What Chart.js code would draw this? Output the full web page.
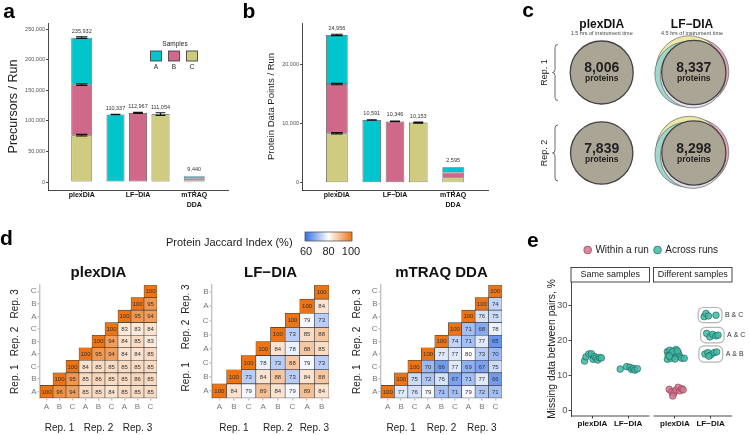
<!DOCTYPE html>
<html>
<head>
<meta charset="utf-8">
<script src="https://cdn.jsdelivr.net/npm/chart.js@4.4.1/dist/chart.umd.min.js"></script>
<style>
  body { margin: 0; background: #fff; }
  #fig { position: relative; width: 750px; height: 435px; overflow: hidden; }
  #fig canvas { position: absolute; }
</style>
</head>
<body>
<div id="fig">
  <canvas id="chartA" width="245" height="215" style="left:0;top:0"></canvas>
  <canvas id="chartB" width="250" height="215" style="left:240px;top:0"></canvas>
  <canvas id="chartC" width="235" height="200" style="left:515px;top:0"></canvas>
  <canvas id="chartD1" width="165" height="210" style="left:0;top:225px"></canvas>
  <canvas id="chartD2" width="200" height="210" style="left:160px;top:225px"></canvas>
  <canvas id="chartD3" width="170" height="210" style="left:340px;top:225px"></canvas>
  <canvas id="chartE" width="250" height="210" style="left:500px;top:225px"></canvas>
</div>
<script>
// ---- a / b : ids per run, stacked by sample for the multiplexed runs
const barGroups = ['plexDIA', 'LF\u2212DIA', 'mTRAQ DDA'];
const samples = ['A', 'B', 'C'];
const precPlex = [76932, 82500, 76500];
const precPlexErr = [1300, 1300, 1300];
const precLF = [110337, 112967, 111054];
const precLFErr = [400, 900, 2200];
const precMtraq = [3140, 3300, 3000];
const precMtraqErr = [0, 0, 0];
const precTicks = [0, 50000, 100000, 150000, 200000, 250000];

const protPlex = [8290, 8330, 8336];
const protPlexErr = [120, 120, 120];
const protLF = [10591, 10346, 10153];
const protLFErr = [40, 60, 90];
const protMtraq = [880, 870, 845];
const protMtraqErr = [0, 0, 0];
const protTicks = [0, 10000, 20000];

// ---- c : proteins per replicate
const vennCols = ['plexDIA', 'LF\u2212DIA'];
const vennSub = ['1.5 hrs of instrument time', '4.5 hrs of instrument time'];
const vennRows = ['Rep. 1', 'Rep. 2'];
const proteinsPlex = [8006, 7839];
const proteinsLF = [8337, 8298];

// ---- d : protein Jaccard index (%), rows bottom->top, cols left->right
const n = null;
const jaccPlex = [
  [100, 96, 94, 85, 85, 84, 85, 85, 85],
  [n, 100, 95, 85, 86, 85, 85, 86, 85],
  [n, n, 100, 84, 85, 85, 85, 85, 85],
  [n, n, n, 100, 95, 94, 84, 84, 85],
  [n, n, n, n, 100, 94, 84, 85, 83],
  [n, n, n, n, n, 100, 83, 83, 84],
  [n, n, n, n, n, n, 100, 95, 94],
  [n, n, n, n, n, n, n, 100, 95],
  [n, n, n, n, n, n, n, n, 100]
];
const jaccLF = [
  [100, 84, 79, 89, 84, 79, 89, 84],
  [n, 100, 73, 84, 88, 73, 84, 88],
  [n, n, 100, 78, 73, 88, 79, 73],
  [n, n, n, 100, 84, 78, 88, 85],
  [n, n, n, n, 100, 73, 85, 88],
  [n, n, n, n, n, 100, 79, 73],
  [n, n, n, n, n, n, 100, 84],
  [n, n, n, n, n, n, n, 100]
];
const jaccMtraq = [
  [100, 77, 76, 79, 71, 71, 79, 72, 71],
  [n, 100, 75, 72, 76, 67, 71, 77, 66],
  [n, n, 100, 70, 66, 77, 69, 67, 75],
  [n, n, n, 100, 77, 77, 80, 73, 70],
  [n, n, n, n, 100, 74, 71, 77, 65],
  [n, n, n, n, n, 100, 71, 68, 78],
  [n, n, n, n, n, n, 100, 76, 75],
  [n, n, n, n, n, n, n, 100, 74],
  [n, n, n, n, n, n, n, n, 100]
];
const runLabels9 = ['A', 'B', 'C', 'A', 'B', 'C', 'A', 'B', 'C'];
const runReps9 = [0, 0, 0, 1, 1, 1, 2, 2, 2];
const runLabels8 = ['A', 'B', 'C', 'A', 'B', 'C', 'A', 'B'];
const runReps8 = [0, 0, 0, 1, 1, 1, 2, 2];
const repNames = ['Rep. 1', 'Rep. 2', 'Rep. 3'];
const jaccTicks = [60, 80, 100];

// ---- e : missing data between pairs (%), [jitter, value]
const eGroups = ['plexDIA', 'LF\u2212DIA'];
const eFacets = ['Same samples', 'Different samples'];
const sameAcrossPlex = [[-0.22, 14.0], [-0.18, 15.2], [-0.1, 16.0], [-0.03, 16.1], [0.02, 14.5], [0.06, 15.3], [0.1, 14.8], [0.15, 14.3], [0.2, 15.0], [0.25, 14.9]];
const sameAcrossLF = [[-0.22, 11.7], [-0.04, 12.4], [0.05, 12.2], [0.1, 11.6], [0.15, 11.9], [0.19, 11.4], [0.26, 11.8]];
const diffAcrossPlex = [[-0.21, 16.7], [-0.19, 15.7], [-0.14, 17.1], [-0.09, 16.2], [-0.04, 15.2], [-0.02, 16.7], [0.03, 17.3], [0.05, 15.7], [0.1, 16.2], [0.14, 15.2], [-0.21, 14.5], [-0.12, 14.8], [0.0, 14.6], [0.19, 14.8], [0.26, 14.8], [-0.06, 16.7], [0.07, 16.9], [-0.16, 15.4]];
const diffWithinPlex = [[-0.16, 5.9], [-0.09, 5.2], [-0.03, 4.8], [0.03, 5.7], [0.09, 6.5], [0.14, 5.5], [0.19, 6.1], [0.23, 5.8], [-0.06, 4.0]];
const diffAcrossLF = [
  [[-0.18, 26.7], [-0.13, 27.6], [-0.06, 26.9], [0.15, 27.1]],
  [[-0.11, 21.9], [-0.02, 20.9], [0.06, 21.6], [0.15, 21.2], [0.21, 21.4]],
  [[-0.16, 16.0], [-0.08, 16.4], [0.0, 15.7], [0.1, 16.4], [0.17, 16.6], [-0.05, 15.4]]
];
const diffLFPairs = ['B & C', 'A & C', 'A & B'];
const eTicks = [0, 10, 20, 30];

// ---------------------------------------------------------------
const FONT = '"Liberation Sans", Arial, Helvetica, sans-serif';
Chart.defaults.font.family = FONT;
Chart.defaults.color = '#333';
Chart.defaults.animation = false;
Chart.defaults.events = [];
Chart.defaults.plugins.legend.display = false;
Chart.defaults.plugins.tooltip.enabled = false;

const sampleColors = ['#00c5cd', '#cf6889', '#cfcc7f'];
const DODGE = [-0.4, 0, 0.4];
const fmt = v => v.toLocaleString('en-US');

function txt(ctx, s, x, y, size, o = {}) {
  ctx.save();
  ctx.font = (o.bold ? 'bold ' : '') + size + 'px ' + FONT;
  ctx.fillStyle = o.color || '#222';
  ctx.textAlign = o.align || 'center';
  ctx.textBaseline = o.base || 'middle';
  ctx.translate(x, y);
  if (o.rot) ctx.rotate(o.rot);
  ctx.fillText(s, 0, 0);
  ctx.restore();
}

function axisLook(color, w, tick) {
  return {
    border: { display: true, color: color, width: w },
    grid: { display: true, drawOnChartArea: false, offset: false, tickLength: tick, color: color, lineWidth: w }
  };
}

// ---------------- a, b
function barPanel(id, d, o) {
  const datasets = [];
  [2, 1, 0].forEach(s => datasets.push({
    data: [{ x: 1, y: d.plex[s] }, { x: 3, y: d.mtraq[s] }],
    errs: [d.plexErr[s], d.mtraqErr[s]],
    backgroundColor: sampleColors[s], barPercentage: 0.93,
    borderWidth: c => (c.dataIndex === 1 ? 0.6 : 0.8)
  }));
  [0, 1, 2].forEach(s => datasets.push({
    data: [{ x: 2 + DODGE[s], y: d.lf[s] }],
    errs: [d.lfErr[s]],
    backgroundColor: sampleColors[s], barPercentage: 0.8, borderWidth: 0.8
  }));
  datasets.forEach(ds => Object.assign(ds, {
    categoryPercentage: 1, grouped: false, borderColor: '#555', borderSkipped: false
  }));

  const extras = {
    id: 'barExtras',
    afterDatasetsDraw(chart) {
      const ctx = chart.ctx, x = chart.scales.x, y = chart.scales.y;
      chart.data.datasets.forEach((ds, i) => {
        chart.getDatasetMeta(i).data.forEach((el, j) => {
          if (!ds.errs[j]) return;
          const e = y.getPixelForValue(0) - y.getPixelForValue(ds.errs[j]);
          const w = el.width * 0.27;
          ctx.save();
          ctx.strokeStyle = '#111'; ctx.lineWidth = 1.1;
          ctx.beginPath();
          ctx.moveTo(el.x, el.y - e); ctx.lineTo(el.x, el.y + e);
          ctx.moveTo(el.x - w, el.y - e); ctx.lineTo(el.x + w, el.y - e);
          ctx.moveTo(el.x - w, el.y + e); ctx.lineTo(el.x + w, el.y + e);
          ctx.stroke();
          ctx.restore();
        });
      });
      const sum = a => a.reduce((t, v) => t + v, 0);
      const tops = [[1, sum(d.plex)], [3, sum(d.mtraq)]].concat(d.lf.map((v, s) => [2 + DODGE[s], v]));
      tops.forEach(([p, v]) => txt(ctx, fmt(v), x.getPixelForValue(p), y.getPixelForValue(v) - 6.5, 5.5, { color: '#333' }));
    },
    afterDraw(chart) {
      const ctx = chart.ctx;
      txt(ctx, o.letter, 9, 18, 21, { bold: true, color: '#000', base: 'alphabetic' });
      if (o.legend) {
        txt(ctx, 'Samples', 175, 44, 6.5, { color: '#222' });
        samples.forEach((s, k) => {
          const cx = 156 + 18 * k;
          ctx.fillStyle = sampleColors[k];
          ctx.fillRect(cx - 5.5, 51, 11, 10);
          ctx.strokeStyle = '#444'; ctx.lineWidth = 0.9;
          ctx.strokeRect(cx - 5.5, 51, 11, 10);
          txt(ctx, s, cx, 67.5, 6.5, { color: '#222' });
        });
      }
    }
  };

  return new Chart(document.getElementById(id), {
    type: 'bar',
    data: { datasets },
    options: {
      responsive: false,
      layout: { autoPadding: false, padding: { left: 0, right: o.padR, top: 23, bottom: 0 } },
      scales: {
        x: Object.assign({
          type: 'linear', min: 0.4, max: 3.6, offset: false,
          afterBuildTicks: s => { s.ticks = [1, 2, 3].map(v => ({ value: v })); },
          afterFit: s => { s.height = 25; },
          ticks: {
            callback: (v, i) => barGroups[i].includes(' ') ? barGroups[i].split(' ') : barGroups[i],
            font: { size: 7, weight: 'bold', lineHeight: 1.4 }, color: '#111', padding: -2,
            maxRotation: 0, autoSkip: false
          }
        }, axisLook('#333', 0.9, 2)),
        y: Object.assign({
          stacked: true, min: o.yMin, max: o.yMax,
          afterBuildTicks: s => { s.ticks = o.ticks.map(v => ({ value: v })); },
          afterFit: s => { s.width = o.yW; },
          ticks: { callback: v => fmt(v), font: { size: 5.5 }, color: '#555', padding: 1 },
          title: { display: true, text: o.title, font: { size: o.titleSize }, color: '#222', padding: { top: o.titlePad, bottom: 0 } }
        }, axisLook('#333', 0.9, 2))
      }
    },
    plugins: [extras]
  });
}

barPanel('chartA',
  { plex: precPlex, plexErr: precPlexErr, lf: precLF, lfErr: precLFErr, mtraq: precMtraq, mtraqErr: precMtraqErr },
  { letter: 'a', legend: true, padR: 17, yW: 48, yMin: -13074, yMax: 259852, ticks: precTicks,
    title: 'Precursors / Run', titleSize: 12.5, titlePad: 6.5 });

barPanel('chartB',
  { plex: protPlex, plexErr: protPlexErr, lf: protLF, lfErr: protLFErr, mtraq: protMtraq, mtraqErr: protMtraqErr },
  { letter: 'b', legend: false, padR: 2, yW: 62, yMin: -1233, yMax: 26976, ticks: protTicks,
    title: 'Protein Data Points / Run', titleSize: 9.5, titlePad: 26 });

// ---------------- c
const rOf = v => 31.5 * Math.sqrt(v / 8006);
const CORE_DX = 0.02;
// LF-DIA per-sample circles peeking out behind the shared core (top layer first)
const VENN = [
  { fill: '#e3e1e9', dx: 0.01, dy: -0.035, dr: 0.5 },
  { fill: '#9ed8cd', dx: -0.05, dy: -0.02, dr: 0.5 },
  { fill: '#ece8a6', dx: -0.03, dy: 0.045, dr: 1 },
  { fill: '#e8a6ba', dx: 0.035, dy: 0.01, dr: 1.5 }
];
const coreStyle = { radius: c => rOf(c.raw.n), backgroundColor: '#aba596', borderColor: '#444', borderWidth: 1.3, clip: false };
const cSets = [
  Object.assign({ data: proteinsPlex.map((v, r) => ({ x: 1, y: 2 - r, n: v })) }, coreStyle),
  Object.assign({ data: proteinsLF.map((v, r) => ({ x: 2 + CORE_DX, y: 2 - r, n: v })) }, coreStyle)
];
VENN.forEach(s => cSets.push({
  data: proteinsLF.map((v, r) => ({ x: 2 + s.dx, y: 2 - r + s.dy, n: v })),
  radius: c => rOf(c.raw.n) + s.dr, backgroundColor: s.fill, borderColor: '#666', borderWidth: 0.7, clip: false
}));

function bracket(ctx, x, cy, h) {
  ctx.save();
  ctx.strokeStyle = '#444'; ctx.lineWidth = 0.8;
  ctx.beginPath();
  ctx.moveTo(x + 3, cy - h);
  ctx.quadraticCurveTo(x, cy - h, x, cy - h + 3);
  ctx.lineTo(x, cy - 3);
  ctx.quadraticCurveTo(x, cy, x - 2.5, cy);
  ctx.quadraticCurveTo(x, cy, x, cy + 3);
  ctx.lineTo(x, cy + h - 3);
  ctx.quadraticCurveTo(x, cy + h, x + 3, cy + h);
  ctx.stroke();
  ctx.restore();
}

new Chart(document.getElementById('chartC'), {
  type: 'bubble',
  data: { datasets: cSets },
  options: {
    responsive: false,
    layout: { autoPadding: false, padding: 0 },
    scales: {
      x: { type: 'linear', display: false, min: 0.04, max: 2.642 },
      y: { type: 'linear', display: false, min: 0.416, max: 2.9006 }
    }
  },
  plugins: [{
    id: 'vennText',
    afterDraw(chart) {
      const ctx = chart.ctx, x = chart.scales.x, y = chart.scales.y;
      txt(ctx, 'c', 13, 17, 21, { bold: true, color: '#000', base: 'alphabetic' });
      vennCols.forEach((c, k) => {
        const px = x.getPixelForValue(k + 1);
        txt(ctx, c, px, 25, 12, { bold: true, color: '#111' });
        txt(ctx, vennSub[k], px, 33, 5.5, { color: '#444' });
      });
      vennRows.forEach((r, k) => {
        const py = y.getPixelForValue(2 - k);
        txt(ctx, r, 30, py, 9, { rot: -Math.PI / 2, color: '#222' });
        bracket(ctx, 40, py, 28);
      });
      [proteinsPlex, proteinsLF].forEach((arr, k) => arr.forEach((v, r) => {
        const px = x.getPixelForValue(k + 1 + (k ? CORE_DX : 0));
        const py = y.getPixelForValue(2 - r);
        txt(ctx, fmt(v), px, py - 4, 14, { bold: true, color: '#222' });
        txt(ctx, 'proteins', px, py + 6.5, 8.5, { bold: true, color: '#222' });
      }));
    }
  }]
});

// ---------------- d
const jLow = [52, 112, 232], jHigh = [236, 116, 20];
function jColor(v) {
  if (v == null) return 'rgba(0,0,0,0)';
  const t = Math.max(-1, Math.min(1, (v - 80) / 20));
  const c = t < 0 ? jLow : jHigh, a = Math.abs(t);
  return 'rgb(' + c.map(k => Math.round(255 - a * (255 - k))).join(',') + ')';
}

function heatmap(id, mat, labels, reps, title, o) {
  const nn = labels.length;
  const datasets = mat.map(row => ({
    data: row.map(v => (v == null ? null : 1)),
    backgroundColor: c => jColor(row[c.dataIndex]),
    borderColor: '#3a3a3a', borderWidth: 0.6, borderSkipped: false,
    barPercentage: 1, categoryPercentage: 1
  }));
  const extras = {
    id: 'heatExtras',
    afterDatasetsDraw(chart) {
      const ctx = chart.ctx;
      mat.forEach((row, i) => {
        const meta = chart.getDatasetMeta(i);
        row.forEach((v, j) => {
          if (v == null) return;
          const el = meta.data[j];
          txt(ctx, String(v), el.x, (el.y + el.base) / 2 + 0.3, 6, { color: '#333' });
        });
      });
    },
    afterDraw(chart) {
      const ctx = chart.ctx, x = chart.scales.x, y = chart.scales.y, a = chart.chartArea;
      txt(ctx, title, (a.left + a.right) / 2, 48, 15, { bold: true, color: '#111' });
      repNames.forEach((r, g) => {
        const idx = reps.map((v, i) => (v === g ? i : -1)).filter(i => i >= 0);
        const mid = idx.reduce((t, i) => t + i, 0) / idx.length;
        txt(ctx, r, x.getPixelForValue(mid), 203, 10, { color: '#222' });
        txt(ctx, r, o.repX, y.getPixelForValue(mid + 0.5), 10, { color: '#222', rot: -Math.PI / 2 });
      });
      if (o.letter) txt(ctx, o.letter, 0, 20, 21, { bold: true, color: '#000', align: 'left', base: 'alphabetic' });
      if (o.colorbar) {
        const bx = 145, bw = 47, by = 7, bh = 9;
        txt(ctx, 'Protein Jaccard Index (%)', 6, 18, 11, { color: '#222', align: 'left' });
        const lo = jaccTicks[0], hi = jaccTicks[jaccTicks.length - 1];
        const grad = ctx.createLinearGradient(bx, 0, bx + bw, 0);
        for (let v = lo; v <= hi; v += 5) grad.addColorStop((v - lo) / (hi - lo), jColor(v));
        ctx.fillStyle = grad;
        ctx.fillRect(bx, by, bw, bh);
        ctx.strokeStyle = '#555'; ctx.lineWidth = 0.8;
        ctx.strokeRect(bx, by, bw, bh);
        jaccTicks.forEach(v => txt(ctx, String(v), bx + 1 + (bw - 2) * (v - lo) / (hi - lo), 27, 11, { color: '#222' }));
      }
    }
  };
  return new Chart(document.getElementById(id), {
    type: 'bar',
    data: { labels, datasets },
    options: {
      responsive: false,
      layout: { autoPadding: false, padding: { left: 0, right: o.padR, top: 60, bottom: 0 } },
      scales: {
        x: Object.assign({
          stacked: true,
          afterFit: s => { s.height = 37; },
          ticks: { font: { size: 8 }, color: '#777', padding: 1, maxRotation: 0, autoSkip: false }
        }, axisLook('#c4c4c4', 1.4, 2.5)),
        y: Object.assign({
          stacked: true, min: 0, max: nn,
          afterBuildTicks: s => { s.ticks = labels.map((_, i) => ({ value: i + 0.5 })); },
          afterFit: s => { s.width = o.yW; },
          ticks: { callback: (v, i) => labels[i], font: { size: 8 }, color: '#777', padding: 1 }
        }, axisLook('#c4c4c4', 1.4, 2.5))
      }
    },
    plugins: [extras]
  });
}

heatmap('chartD1', jaccPlex, runLabels9, runReps9, 'plexDIA', { padR: 8, yW: 40, repX: 15, letter: 'd' });
heatmap('chartD2', jaccLF, runLabels8, runReps8, 'LF\u2212DIA', { padR: 31, yW: 52, repX: 26, colorbar: true });
heatmap('chartD3', jaccMtraq, runLabels9, runReps9, 'mTRAQ DDA', { padR: 8, yW: 41, repX: 17 });

// ---------------- e
const FACET_SHIFT = 2.313;
const ePts = (arr, g, f) => arr.map(([dx, v]) => ({ x: f * FACET_SHIFT + g + dx, y: v }));
const eTickPos = [1, 2, 1 + FACET_SHIFT, 2 + FACET_SHIFT];

new Chart(document.getElementById('chartE'), {
  type: 'scatter',
  data: {
    datasets: [
      { label: 'Within a run', data: ePts(diffWithinPlex, 1, 1),
        backgroundColor: 'rgba(214,116,142,0.85)', borderColor: '#8e4257' },
      { label: 'Across runs',
        data: [].concat(ePts(sameAcrossPlex, 1, 0), ePts(sameAcrossLF, 2, 0), ePts(diffAcrossPlex, 1, 1),
          ...diffAcrossLF.map(g => ePts(g, 2, 1))),
        backgroundColor: 'rgba(62,186,166,0.85)', borderColor: '#22695f' }
    ].map(ds => Object.assign(ds, { pointRadius: 3.3, borderWidth: 0.7, clip: false }))
  },
  options: {
    responsive: false,
    layout: { autoPadding: false, padding: { left: 40, right: 18, top: 14, bottom: 0 } },
    plugins: {
      legend: {
        display: true, position: 'top', fullSize: false, align: 'center',
        labels: { usePointStyle: true, pointStyle: 'circle', boxWidth: 5.5, boxHeight: 5.5, padding: 6,
          font: { size: 10 }, color: '#222' }
      }
    },
    scales: {
      x: {
        type: 'linear', min: 0.4, max: 0.4 + 2.2 + FACET_SHIFT, offset: false,
        afterBuildTicks: s => { s.ticks = eTickPos.map(v => ({ value: v })); },
        afterFit: s => { s.height = 19; },
        border: { display: false },
        grid: { display: true, drawOnChartArea: false, offset: false, tickLength: 2.5, color: '#333', lineWidth: 0.9 },
        ticks: { callback: (v, i) => eGroups[i % 2], font: { size: 8, weight: 'bold' }, color: '#111', padding: 0,
          maxRotation: 0, autoSkip: false }
      },
      xt: {
        type: 'linear', position: 'top', display: true,
        grid: { display: false }, border: { display: false }, ticks: { display: false },
        afterFit: s => { s.height = 17; }
      },
      y: Object.assign({
        min: -1.71, max: 36.6,
        afterBuildTicks: s => { s.ticks = eTicks.map(v => ({ value: v })); },
        afterFit: s => { s.width = 31; },
        ticks: { font: { size: 9.5 }, color: '#555', padding: 1 },
        title: { display: true, text: 'Missing data between pairs, %', font: { size: 10.3 }, color: '#222',
          padding: { top: 5.5, bottom: 0 } }
      }, axisLook('#333', 0.9, 2.5))
    }
  },
  plugins: [{
    id: 'facets',
    beforeDatasetsDraw(chart) {
      const ctx = chart.ctx, x = chart.scales.x, y = chart.scales.y;
      diffAcrossLF.forEach((g, k) => {
        const pts = ePts(g, 2, 1).map(p => [x.getPixelForValue(p.x), y.getPixelForValue(p.y)]);
        const x0 = Math.min(...pts.map(p => p[0])) - 6, x1 = Math.max(...pts.map(p => p[0])) + 6;
        const y0 = Math.min(...pts.map(p => p[1])) - 6, y1 = Math.max(...pts.map(p => p[1])) + 6;
        ctx.save();
        ctx.strokeStyle = '#b5b5b5'; ctx.lineWidth = 1.2;
        ctx.beginPath();
        ctx.roundRect(x0, y0, x1 - x0, y1 - y0, 5);
        ctx.stroke();
        ctx.restore();
        txt(ctx, diffLFPairs[k], x1 + 3, (y0 + y1) / 2, 7, { color: '#333', align: 'left' });
      });
    },
    afterDraw(chart) {
      const ctx = chart.ctx, x = chart.scales.x, a = chart.chartArea;
      txt(ctx, 'e', 27, 22, 21, { bold: true, color: '#000', align: 'left', base: 'alphabetic' });
      eFacets.forEach((f, k) => {
        const l = x.getPixelForValue(0.4 + k * FACET_SHIFT), r = x.getPixelForValue(2.6 + k * FACET_SHIFT);
        ctx.save();
        ctx.fillStyle = '#fff';
        ctx.strokeStyle = '#333'; ctx.lineWidth = 0.9;
        ctx.fillRect(l, a.top - 14.5, r - l, 14.5);
        ctx.strokeRect(l, a.top - 14.5, r - l, 14.5);
        ctx.beginPath();
        ctx.moveTo(l, a.bottom); ctx.lineTo(r, a.bottom);
        ctx.stroke();
        ctx.restore();
        txt(ctx, f, (l + r) / 2, a.top - 7, 9, { color: '#222' });
      });
    }
  }]
});
</script>
</body>
</html>
